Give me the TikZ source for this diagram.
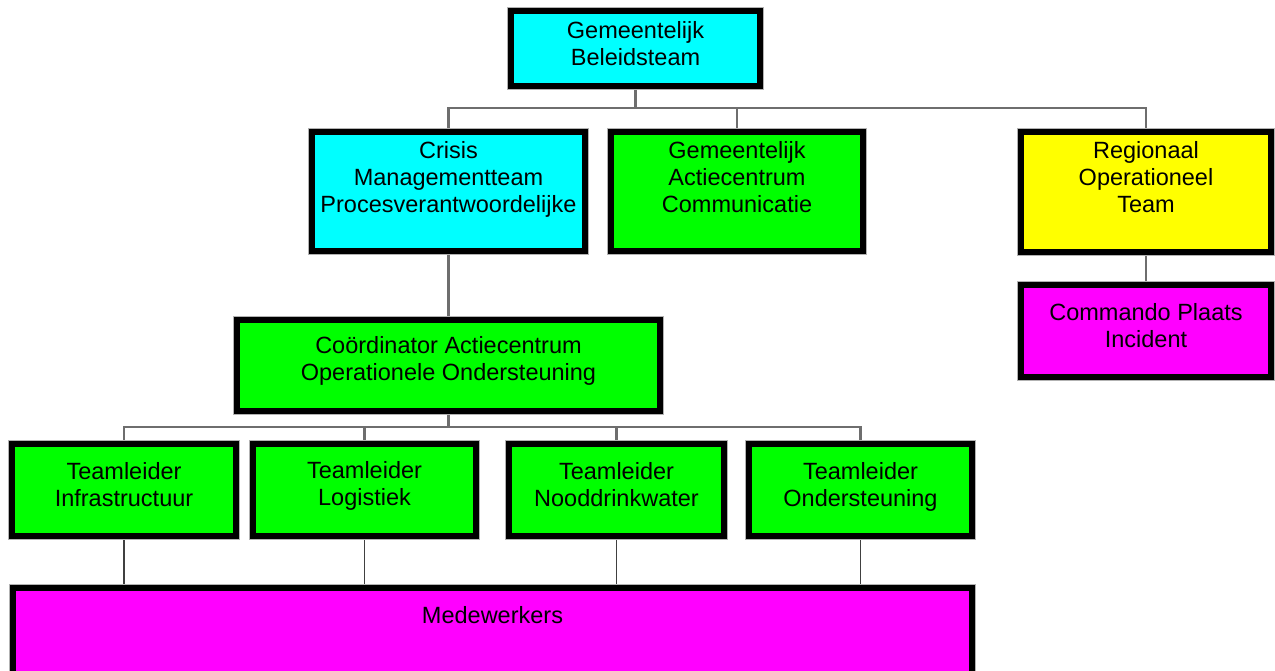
\documentclass[tikz,border=0pt]{standalone}
\usepackage{fontspec}
\setmainfont{Liberation Sans}
\usetikzlibrary{backgrounds}
\definecolor{boxcyan}{RGB}{0,255,255}
\definecolor{boxgreen}{RGB}{0,255,0}
\definecolor{boxyellow}{RGB}{255,255,0}
\definecolor{boxmagenta}{RGB}{255,0,255}
\definecolor{linkgray}{RGB}{110,110,110}
\begin{document}
\begin{tikzpicture}[x=1pt,y=-1pt,
  orgbox/.style={draw=black, line width=6pt, inner sep=0pt, outer sep=0pt,
    preaction={draw=black!30, line width=8pt}},
  lbl/.style={align=center, inner sep=0pt, font=\fontsize{23.5}{27}\selectfont,
    execute at begin node=\strut, execute at end node=\strut},
  link/.style={draw=linkgray, line width=2.5pt},
  sublink/.style={draw=black!75, line width=1.5pt}]
\clip (0,0) rectangle (1275,671);

% boxes
\node[orgbox, fill=boxcyan, minimum width=249pt, minimum height=75pt] (gbt) at (635.5,48.5) {};
\node[orgbox, fill=boxcyan, minimum width=273pt, minimum height=119pt] (cmt) at (448.5,191.5) {};
\node[orgbox, fill=boxgreen, minimum width=252pt, minimum height=119pt] (gac) at (737,191.5) {};
\node[orgbox, fill=boxyellow, minimum width=250pt, minimum height=120pt] (rot) at (1146,192) {};
\node[orgbox, fill=boxmagenta, minimum width=250pt, minimum height=92pt] (cpi) at (1146,331) {};
\node[orgbox, fill=boxgreen, minimum width=423pt, minimum height=91pt] (coo) at (448.5,365.5) {};
\node[orgbox, fill=boxgreen, minimum width=224pt, minimum height=92pt] (tl1) at (124,490) {};
\node[orgbox, fill=boxgreen, minimum width=223pt, minimum height=92pt] (tl2) at (364.5,490) {};
\node[orgbox, fill=boxgreen, minimum width=215pt, minimum height=92pt] (tl3) at (616.5,490) {};
\node[orgbox, fill=boxgreen, minimum width=223pt, minimum height=92pt] (tl4) at (860.5,490) {};
\node[orgbox, fill=boxmagenta, minimum width=959pt, minimum height=109pt] (med) at (492.5,642.5) {};

% labels
\node[lbl] (gbtT) at (635.5,48) {Gemeentelijk\\Beleidsteam};
\node[lbl] (cmtT) at (448.5,181.5) {Crisis\\Managementteam\\Procesverantwoordelijke};
\node[lbl] (gacT) at (737,181.5) {Gemeentelijk\\Actiecentrum\\Communicatie};
\node[lbl] (rotT) at (1146,181) {Regionaal\\Operationeel\\Team};
\node[lbl] (cpiT) at (1146,330) {Commando Plaats\\Incident};
\node[lbl] (cooT) at (448.5,362.5) {Coördinator Actiecentrum\\Operationele Ondersteuning};
\node[lbl] (tl1T) at (124,489) {Teamleider\\Infrastructuur};
\node[lbl] (tl2T) at (364.5,488) {Teamleider\\Logistiek};
\node[lbl] (tl3T) at (616.5,489) {Teamleider\\Nooddrinkwater};
\node[lbl] (tl4T) at (860.5,489) {Teamleider\\Ondersteuning};
\node[lbl] (medT) at (492.5,618) {Medewerkers};

% connectors
\begin{pgfonlayer}{background}
  \draw[link] (gbt.south) -- ++(0,22) coordinate (j1);
  \draw[link] (cmt.north) |- (j1) -| (rot.north);
  \draw[link] (j1) -| (gac.north);
  \draw[link] (cmt.south) -- (coo.north);
  \draw[link] (rot.south) -- (cpi.north);
  \draw[link] (coo.south) -- ++(0,16) coordinate (j2);
  \draw[link] (tl1.north) |- (j2) -| (tl4.north);
  \draw[link] (j2) -| (tl2.north);
  \draw[link] (j2) -| (tl3.north);
  \draw[sublink] (tl1.south) -- (tl1.south |- med.north);
  \draw[sublink] (tl2.south) -- (tl2.south |- med.north);
  \draw[sublink] (tl3.south) -- (tl3.south |- med.north);
  \draw[sublink] (tl4.south) -- (tl4.south |- med.north);
\end{pgfonlayer}
\end{tikzpicture}
\end{document}
